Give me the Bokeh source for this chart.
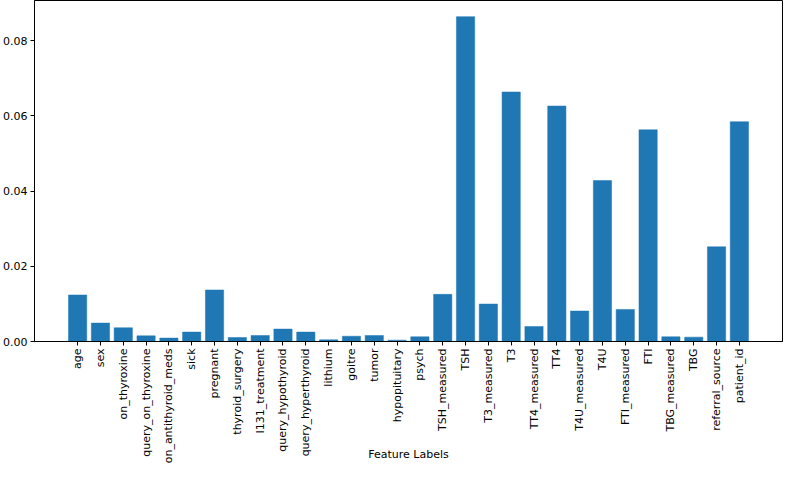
import math
from bokeh.plotting import figure
from bokeh.models import Range1d, FixedTicker, NumeralTickFormatter, ColumnDataSource
from bokeh.embed import file_html
from bokeh.resources import INLINE

features = ["age", "sex", "on_thyroxine", "query_on_thyroxine", "on_antithyroid_meds",
            "sick", "pregnant", "thyroid_surgery", "I131_treatment", "query_hypothyroid",
            "query_hyperthyroid", "lithium", "goitre", "tumor", "hypopituitary", "psych",
            "TSH_measured", "TSH", "T3_measured", "T3", "TT4_measured", "TT4",
            "T4U_measured", "T4U", "FTI_measured", "FTI", "TBG_measured", "TBG",
            "referral_source", "patient_id"]
importance = [0.01237, 0.0049, 0.00365, 0.0015, 0.0009,
              0.0025, 0.0137, 0.00107, 0.0016, 0.0033,
              0.0025, 0.00045, 0.0014, 0.0016, 0.00036, 0.00125,
              0.01254, 0.0864, 0.00996, 0.06637, 0.0040, 0.06263,
              0.0081, 0.0428, 0.00854, 0.0563, 0.00125, 0.00116,
              0.02518, 0.05845]
y_ticks = [0.0, 0.02, 0.04, 0.06, 0.08]
x_title = "Feature Labels"

xs = list(range(len(features)))
src = ColumnDataSource(dict(x=xs, top=importance, name=features))

p = figure(width=784, height=464, output_backend="svg", toolbar_location=None,
           x_range=Range1d(-1.89, 30.89), y_range=Range1d(0, 0.0907),
           min_border_left=0, min_border_right=2, min_border_top=0, min_border_bottom=0,
           min_border=0)

p.vbar(x="x", top="top", width=0.8, bottom=0, source=src,
       fill_color="#1f77b4", line_color="#1f77b4", line_width=0.5)

p.xgrid.visible = False
p.ygrid.visible = False
p.outline_line_color = "black"
p.outline_line_width = 1
p.background_fill_color = "white"
p.border_fill_color = "white"

font = "DejaVu Sans"
xa = p.xaxis[0]
xa.ticker = FixedTicker(ticks=xs)
xa.major_label_overrides = {i: n for i, n in enumerate(features)}
xa.major_label_orientation = math.pi / 2
xa.axis_label = x_title
xa.axis_label_text_font_style = "normal"

ya = p.yaxis[0]
ya.ticker = FixedTicker(ticks=y_ticks)
ya.formatter = NumeralTickFormatter(format="0.00")

for ax in (xa, ya):
    ax.axis_line_color = "black"
    ax.major_tick_line_color = "black"
    ax.major_tick_out = 4
    ax.major_tick_in = 0
    ax.minor_tick_line_color = None
    ax.major_label_text_font = font
    ax.major_label_text_font_size = "11px"
    ax.major_label_text_color = "black"
    ax.axis_label_text_font = font
    ax.axis_label_text_font_size = "11px"
    ax.axis_label_text_color = "black"
    ax.major_label_standoff = 3
xa.axis_label_standoff = -18

open("out.html", "w").write(file_html(p, INLINE))
